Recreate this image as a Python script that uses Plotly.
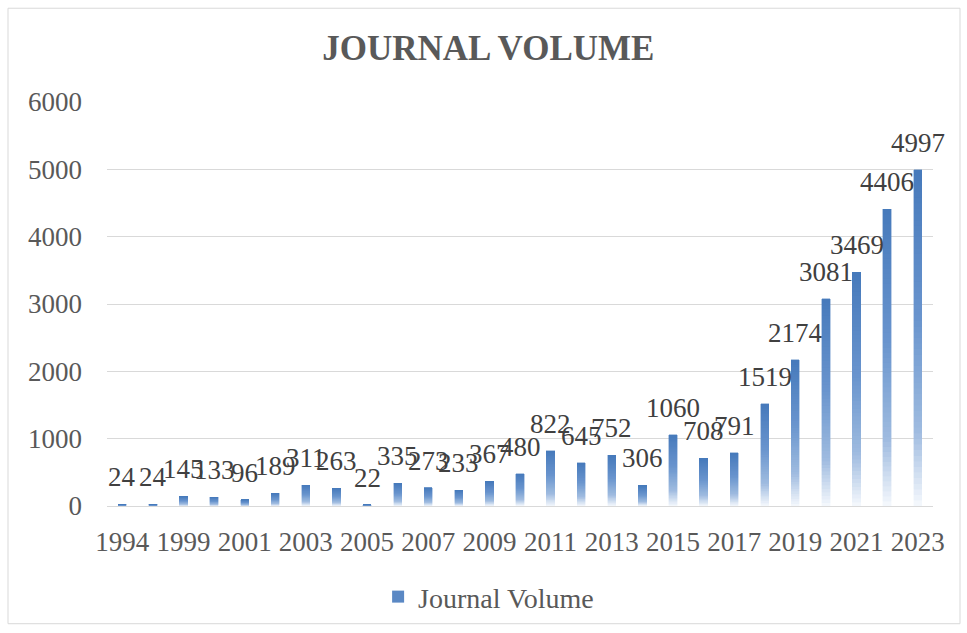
import plotly.graph_objects as go

years = ["1994", "1998"] + [str(y) for y in range(1999, 2024)]
volumes = [24, 24, 145, 133, 96, 189, 311, 263, 22, 335, 273, 233, 367, 480,
           822, 645, 752, 306, 1060, 708, 791, 1519, 2174, 3081, 3469, 4406, 4997]
series_name = "Journal Volume"
title_text = "JOURNAL VOLUME"

font_family = "Liberation Serif, Times New Roman, serif"

# vertical gradient (bottom -> top) emulated with stacked slices of each bar
grad_stops = [(0.0, (246, 249, 253)), (0.22, (160, 188, 224)), (0.55, (106, 149, 206)), (1.0, (70, 121, 187))]
n_slices = 60


def grad_color(t):
    for (t0, c0), (t1, c1) in zip(grad_stops[:-1], grad_stops[1:]):
        if t <= t1:
            f = (t - t0) / (t1 - t0)
            c = [round(a + (b - a) * f) for a, b in zip(c0, c1)]
            return "rgb(%d,%d,%d)" % tuple(c)
    return "rgb(%d,%d,%d)" % grad_stops[-1][1]


fig = go.Figure()
for i in range(n_slices):
    t = (i + 0.5) / n_slices
    fig.add_trace(go.Bar(
        x=years, y=[v / n_slices for v in volumes],
        name=series_name, legendgroup="jv", showlegend=False,
        marker=dict(color=grad_color(t), line=dict(width=0.4, color=grad_color(t))),
        width=0.27, hoverinfo="skip",
    ))
# legend entry with gradient-like colour
fig.add_trace(go.Bar(
    x=[years[0]], y=[None], name=series_name, legendgroup="jv", showlegend=True,
    marker=dict(color="#5a88c4", line=dict(width=0)),
))

for idx, v in enumerate(volumes):
    fig.add_annotation(x=idx, y=v, xref="x", yref="y", text=str(v), showarrow=False,
                       yanchor="bottom", yshift=10,
                       font=dict(family=font_family, size=27, color="#404040"))

fig.update_layout(
    width=967, height=633,
    margin=dict(l=107, r=34, t=102, b=126),
    paper_bgcolor="white", plot_bgcolor="white",
    barmode="stack",
    title=dict(text="<b>" + title_text + "</b>", x=0.505, xanchor="center",
               y=1 - 48 / 633, yanchor="middle",
               font=dict(family=font_family, size=35, color="#595959")),
    showlegend=True,
    legend=dict(orientation="h", x=0.462, xanchor="center", y=-0.222, yanchor="middle",
                font=dict(family=font_family, size=28, color="#595959")),
    font=dict(family=font_family, color="#595959"),
)
fig.update_xaxes(type="category", categoryorder="array", categoryarray=years,
                 range=[-0.5, len(years) - 0.5],
                 tickmode="array", tickvals=years[::2], ticktext=years[::2],
                 tickfont=dict(family=font_family, size=27, color="#595959"),
                 showline=True, linecolor="#d9d9d9", linewidth=1, ticks="", showgrid=False,
                 ticklabelstandoff=12)
fig.update_yaxes(range=[0, 6000], dtick=1000, tickfont=dict(family=font_family, size=27, color="#595959"),
                 gridcolor="#d9d9d9", gridwidth=1, zeroline=False, showline=False, ticks="",
                 ticklabelstandoff=24)
fig.add_shape(type="rect", xref="paper", yref="paper",
              x0=-99 / 826, x1=1 + 27 / 826, y0=-118 / 405, y1=1 + 94 / 405,
              line=dict(color="#d9d9d9", width=1), fillcolor="rgba(0,0,0,0)", layer="below")
fig.write_html("out.html")
